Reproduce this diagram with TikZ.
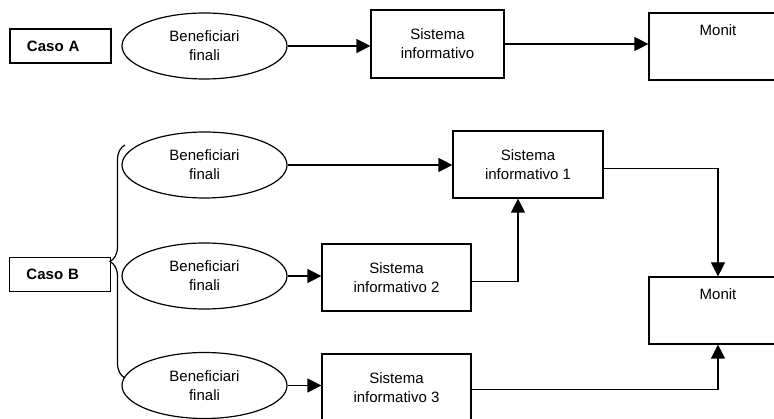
\documentclass[tikz,border=0pt]{standalone}
\usepackage{fontspec}
\setmainfont{Liberation Sans}
\usetikzlibrary{shapes.geometric,arrows.meta,decorations.pathreplacing,calc}
\begin{document}
\begin{tikzpicture}[x=1pt,y=-1pt,
  every node/.style={font=\fontsize{15}{19}\selectfont},
  box/.style={draw, line width=1.2pt, rectangle, inner sep=0pt, align=center},
  ell/.style={draw, line width=1.2pt, ellipse, minimum width=165pt, minimum height=66pt, inner sep=0pt, align=center},
  arr/.style={line width=1.2pt, -{Triangle[length=14pt,width=14pt]}},
  lbl/.style={box, font=\fontsize{15}{18}\selectfont\bfseries, minimum width=101pt, minimum height=34pt, text width=67pt, align=left},
  sbox/.style={box, minimum height=67pt},
  mbox/.style={box, minimum width=138pt, minimum height=67pt},
  brc/.style={decorate, decoration={brace, amplitude=15pt}, line width=1.2pt}
]
\useasboundingbox (0,0) rectangle (774,419);
\fill[white] (0,0) rectangle (774,419);
\clip (0,0) rectangle (774,419);

% Caso A
\node[lbl] (casoA) at (60.5,46) {Caso A};
\node[ell] (eA) at (204.5,46) {Beneficiari\\finali};
\node[sbox, minimum width=133pt, minimum height=68pt] (sA) at (437.5,44) {Sistema\\informativo};
\node[mbox] (mA) at (718,46.5) {};
\node (mAt) at (718,30) {Monit};
\draw[arr] (eA.east) -- (sA.west |- eA.east);
\draw[arr] (sA.east) -- (mA.west |- sA.east);

% Caso B
\node[lbl] (casoB) at (60,274.5) {Caso B};
\node[ell] (e1) at (204.5,165) {Beneficiari\\finali};
\node[ell] (e2) at (204.5,276) {Beneficiari\\finali};
\node[ell] (e3) at (204.5,385.5) {Beneficiari\\finali};
\node[sbox, minimum width=150pt] (s1) at (528,164.5) {Sistema\\informativo 1};
\node[sbox, minimum width=149pt] (s2) at (396.5,277.5) {Sistema\\informativo 2};
\node[sbox, minimum width=149pt] (s3) at (396.5,387.5) {Sistema\\informativo 3};
\node[mbox] (mB) at (718,310.5) {};
\node (mBt) at (718,294) {Monit};

\coordinate (bTop) at (125,145);
\coordinate (bBot) at (125,378);
\draw[brc] (bBot) -- (bTop);

\draw[arr] (e1.east) -- (s1.west |- e1.east);
\draw[arr] (e2.east) -- (s2.west |- e2.east);
\draw[arr] (e3.east) -- (s3.west |- e3.east);
\draw[arr] ([yshift=-4pt]s1.east) -| (mB.north);
\draw[arr] ([yshift=-4pt]s2.east) -| ([xshift=-10pt]s1.south);
\draw[arr] ([yshift=-2pt]s3.east) -| (mB.south);
\end{tikzpicture}
\end{document}
